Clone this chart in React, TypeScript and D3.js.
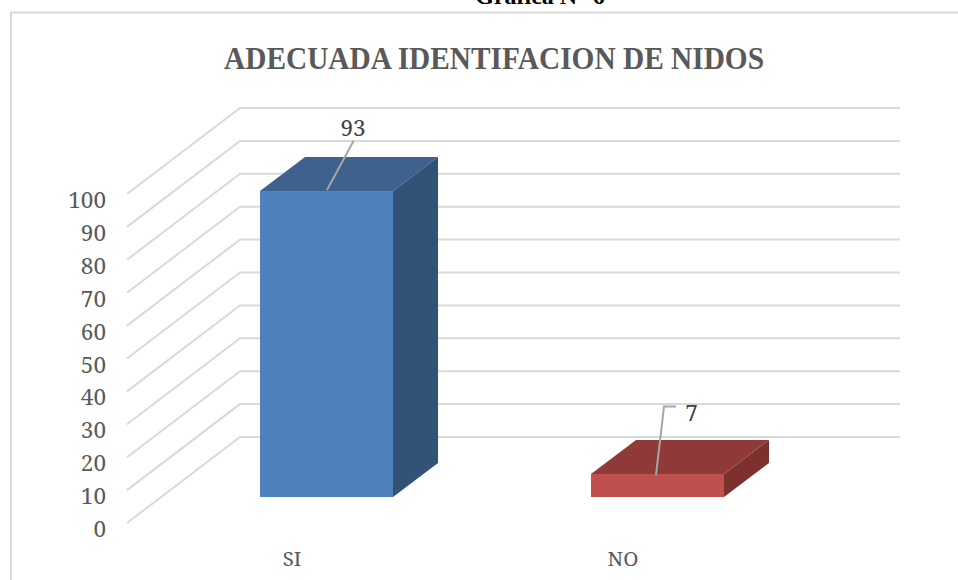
import React from "react";
import * as d3 from "d3";

const categories = ["SI", "NO"];
const values = [93, 7];
const ticks = [0, 10, 20, 30, 40, 50, 60, 70, 80, 90, 100];
const barColors = [
  { front: "#4f81bd", top: "#3e618d", side: "#325278" },
  { front: "#c0504d", top: "#8f3a38", side: "#7d312f" },
];
const chartTitle = "ADECUADA IDENTIFACION DE NIDOS";
const pageTitle = "Gráfica N° 6";

const FONT = "'Noto Serif', 'Liberation Serif', 'DejaVu Serif', serif";
const TITLE_FONT = "'Liberation Serif', serif";

const frontX = 127;
const backX = 240;
const rightX = 900;
const y = d3.scaleLinear().domain([0, 100]).range([523, 194]);
const depthY = 86;
const barBase = 497;
const barW = 133;
const barD = { x: 45, y: 34 };
const barX = d3.scaleOrdinal<string, number>().domain(categories).range([260, 591]);

const pts = (a: number[][]) => a.map((p) => p.join(",")).join(" ");

export default function App() {
  const h = (v: number) => y(0) - y(v);
  const gridPath = d3.line();
  return (
    <svg width={958} height={580} style={{ position: "absolute", left: 0, top: 0, background: "#fff" }}>
      <text x={540} y={4} textAnchor="middle" fontFamily={TITLE_FONT} fontWeight="bold" fontSize={24} fill="#000">
        {pageTitle}
      </text>
      <path d="M11,580 V12.5 H958" fill="none" stroke="#d9d9d9" strokeWidth={2} />
      <text x={494} y={68.5} textAnchor="middle" fontFamily={TITLE_FONT} fontWeight="bold" fontSize={32} fill="#595959" textLength={540} lengthAdjust="spacingAndGlyphs">
        {chartTitle}
      </text>
      {ticks.map((t) => (
        <g key={t}>
          <path
            d={gridPath([[frontX, y(t)], [backX, y(t) - depthY], [rightX, y(t) - depthY]]) as string}
            fill="none"
            stroke="#d9d9d9"
            strokeWidth={2}
          />
          <text x={106} y={y(t) + 14} textAnchor="end" fontFamily={FONT} fontSize={22.5} fill="#595959">
            {t}
          </text>
        </g>
      ))}
      {categories.map((c, i) => {
        const x0 = barX(c);
        const top = barBase - h(values[i]);
        const col = barColors[i];
        return (
          <g key={c}>
            <polygon points={pts([[x0 + barW, top], [x0 + barW + barD.x, top - barD.y], [x0 + barW + barD.x, barBase - barD.y], [x0 + barW, barBase]])} fill={col.side} />
            <polygon points={pts([[x0, top], [x0 + barD.x, top - barD.y], [x0 + barW + barD.x, top - barD.y], [x0 + barW, top]])} fill={col.top} />
            <rect x={x0} y={top} width={barW} height={h(values[i])} fill={col.front} />
            <text x={x0 + barW / 2 - 34.5} y={566} textAnchor="middle" fontFamily={FONT} fontSize={20.5} fill="#595959">
              {c}
            </text>
          </g>
        );
      })}
      <path d="M327,190 L353.5,141" fill="none" stroke="#a6a6a6" strokeWidth={2} />
      <text x={353} y={136} textAnchor="middle" fontFamily={FONT} fontSize={22.5} fill="#404040">{values[0]}</text>
      <path d="M656,475 L664,406.5 H676" fill="none" stroke="#a6a6a6" strokeWidth={2} />
      <text x={691.5} y={421} textAnchor="middle" fontFamily={FONT} fontSize={22.5} fill="#404040">{values[1]}</text>
    </svg>
  );
}
